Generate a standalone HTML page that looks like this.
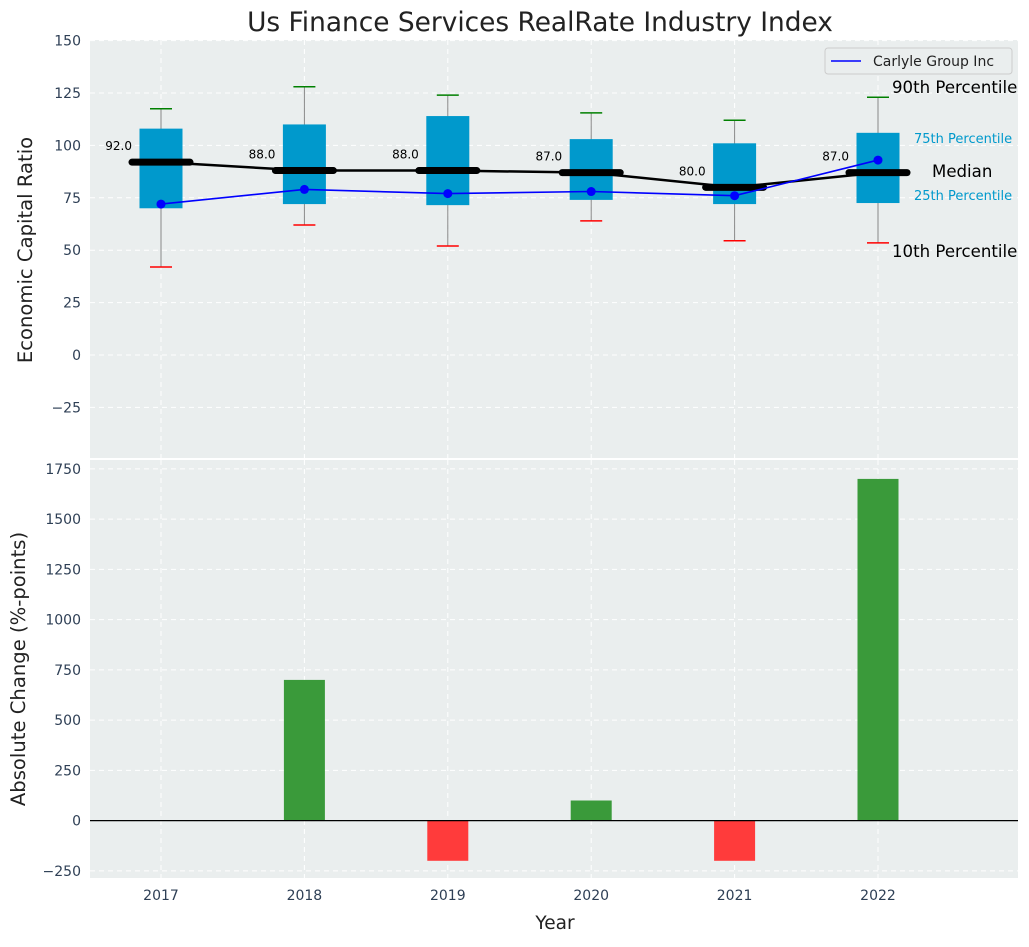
<!DOCTYPE html>
<html><head><meta charset="utf-8">
<style>
body{margin:0;background:#fff;font-family:"Liberation Sans","DejaVu Sans",sans-serif;}
svg text{font-family:"DejaVu Sans","Liberation Sans",sans-serif;}
</style></head>
<body>
<svg id="chart" width="1029" height="942" xmlns="http://www.w3.org/2000/svg">
<text x="540" y="31" text-anchor="middle" font-size="26.4" fill="#222">Us Finance Services RealRate Industry Index</text>
<g id="topPanel"></g>
<g id="botPanel"></g>
</svg>
<script>
const years=[2017,2018,2019,2020,2021,2022];
const p10=[42,62,52,64,54.5,53.5];
const p25=[70,72,71.5,74,72,72.5];
const medians=[92,88,88,87,80,87];
const p75=[108,110,114,103,101,106];
const p90=[117.5,128,124,115.5,112,123];
const company=[72,79,77,78,76,93];
const changes=[0,700,-200,100,-200,1700];
const topTicks=[150,125,100,75,50,25,0,-25];
const botTicks=[1750,1500,1250,1000,750,500,250,0,-250];

const NS="http://www.w3.org/2000/svg";
const L=90,R=1018;
const xs=y=>161+(y-2017)*143.4;
const yt=v=>355-v*52.4/25;
const yb=v=>820.6-v*50.25/250;
function mk(p,t,a){const el=document.createElementNS(NS,t);for(const k in a)el.setAttribute(k,a[k]);p.appendChild(el);return el;}
const topG=document.getElementById('topPanel'),botG=document.getElementById('botPanel');
let e;

e=mk(topG,'rect',{x:L,y:40,width:R-L,height:418,fill:'#eaeeee'});


e=mk(botG,'rect',{x:L,y:460,width:R-L,height:418,fill:'#eaeeee'});



topTicks.forEach(v=>{
  mk(topG,'line',{x1:L,x2:R,y1:yt(v),y2:yt(v),stroke:'#fff','stroke-dasharray':'5,4','stroke-width':1});
  e=mk(topG,'text',{x:L-9,y:yt(v)+5,'text-anchor':'end','font-size':14,fill:'#2e3f55'});e.textContent=v<0?'\u2212'+(-v):v;
  
  
});
botTicks.forEach(v=>{
  mk(botG,'line',{x1:L,x2:R,y1:yb(v),y2:yb(v),stroke:'#fff','stroke-dasharray':'5,4','stroke-width':1});
  e=mk(botG,'text',{x:L-9,y:yb(v)+5,'text-anchor':'end','font-size':14,fill:'#2e3f55'});e.textContent=v<0?'\u2212'+(-v):v;
  
  
});
years.forEach(y=>{
  mk(topG,'line',{x1:xs(y),x2:xs(y),y1:40,y2:458,stroke:'#fff','stroke-dasharray':'5,4'});
  mk(botG,'line',{x1:xs(y),x2:xs(y),y1:460,y2:878,stroke:'#fff','stroke-dasharray':'5,4'});
  e=mk(botG,'text',{x:xs(y),y:900,'text-anchor':'middle','font-size':14,fill:'#2e3f55'});e.textContent=y;
  
  
});

years.forEach((y,i)=>{
  const x=xs(y);
  mk(topG,'line',{x1:x,x2:x,y1:yt(p90[i]),y2:yt(p10[i]),stroke:'#888','stroke-width':1});
  e=mk(topG,'rect',{x:x-21.5,y:yt(p75[i]),width:43,height:yt(p25[i])-yt(p75[i]),fill:'#0099cc'});
  
  
  mk(topG,'line',{x1:x-11,x2:x+11,y1:yt(p90[i]),y2:yt(p90[i]),stroke:'green','stroke-width':1.5});
  mk(topG,'line',{x1:x-11,x2:x+11,y1:yt(p10[i]),y2:yt(p10[i]),stroke:'red','stroke-width':1.5});
  e=mk(topG,'line',{x1:x-29,x2:x+29,y1:yt(medians[i]),y2:yt(medians[i]),stroke:'#000','stroke-width':7,'stroke-linecap':'round'});
  
  
  e=mk(topG,'text',{x:x-29,y:yt(medians[i])-12,'text-anchor':'end','font-size':12,fill:'#000'});e.textContent=medians[i].toFixed(1);
  
  
});
e=mk(topG,'polyline',{points:years.map((y,i)=>xs(y)+','+yt(medians[i])).join(' '),fill:'none',stroke:'#000','stroke-width':2.5});


e=mk(topG,'polyline',{points:years.map((y,i)=>xs(y)+','+yt(company[i])).join(' '),fill:'none',stroke:'blue','stroke-width':1.6});


years.forEach((y,i)=>{e=mk(topG,'circle',{cx:xs(y),cy:yt(company[i]),r:4.5,fill:'blue'});
  
  });

const ann=[[892,93,'90th Percentile',16.6,'#000'],[914,143,'75th Percentile',13,'#0099cc'],[932,177,'Median',16.6,'#000'],[914,200,'25th Percentile',13,'#0099cc'],[892,257,'10th Percentile',16.6,'#000']];
ann.forEach(a=>{e=mk(topG,'text',{x:a[0],y:a[1],'font-size':a[3],fill:a[4]});e.textContent=a[2];
  
  });

let lg=mk(topG,'g',{});


mk(lg,'rect',{x:825,y:48,width:187,height:26,rx:3,fill:'#eaeeee',stroke:'#ccc'});
mk(lg,'line',{x1:831,x2:861,y1:61,y2:61,stroke:'blue','stroke-width':1.6});
e=mk(lg,'text',{x:873,y:66,'font-size':14,fill:'#222'});e.textContent='Carlyle Group Inc';

years.forEach((y,i)=>{
  const v=changes[i];if(v===0)return;
  e=mk(botG,'rect',{x:xs(y)-20.5,y:Math.min(yb(v),yb(0)),width:41,height:Math.abs(yb(v)-yb(0)),fill:v>0?'#3a9a3a':'#ff3b3b'});
  
  
});
mk(botG,'line',{x1:L,x2:R,y1:yb(0),y2:yb(0),stroke:'#000','stroke-width':1.2});

e=mk(topG,'text',{x:32,y:250,'text-anchor':'middle','font-size':19.6,fill:'#222',transform:'rotate(-90 32 250)'});e.textContent='Economic Capital Ratio';


e=mk(botG,'text',{x:25,y:669,'text-anchor':'middle','font-size':19.6,fill:'#222',transform:'rotate(-90 25 669)'});e.textContent='Absolute Change (%-points)';


e=mk(botG,'text',{x:555,y:929,'text-anchor':'middle','font-size':18.5,fill:'#222'});e.textContent='Year';


</script>
</body></html>
